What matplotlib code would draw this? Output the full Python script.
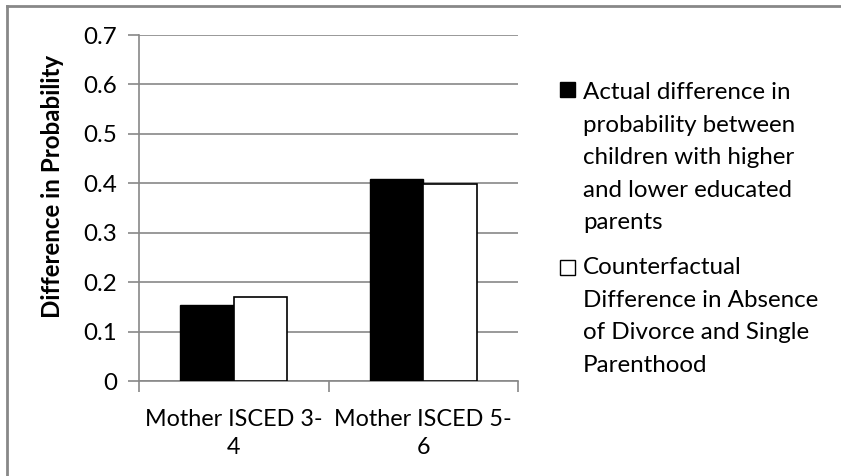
import matplotlib.pyplot as plt
from matplotlib.patches import Rectangle
import numpy as np

categories = ['Mother ISCED 3-\n4', 'Mother ISCED 5-\n6']
actual = [0.153, 0.409]
counterfactual = [0.170, 0.398]
series_labels = [
    'Actual difference in\nprobability between\nchildren with higher\nand lower educated\nparents',
    'Counterfactual\nDifference in Absence\nof Divorce and Single\nParenthood',
]
yticks = [0, 0.1, 0.2, 0.3, 0.4, 0.5, 0.6, 0.7]

plt.rcParams['font.family'] = ['Lato', 'DejaVu Sans']
FS = 17.4
W, H = 841, 476

fig = plt.figure(figsize=(W / 100, H / 100), dpi=100)
ax = fig.add_axes([139 / W, 1 - 381 / H, (518 - 139) / W, (381 - 35) / H])

x = np.arange(len(categories))
bw = 0.283
ax.bar(x - bw / 2, actual, bw, color='black', edgecolor='black', linewidth=1, zorder=3)
ax.bar(x + bw / 2, counterfactual, bw, color='white', edgecolor='black', linewidth=1.2, zorder=3)

ax.set_xlim(-0.5, 1.5)
ax.set_ylim(0, 0.7)
ax.set_yticks(yticks)
ax.set_yticklabels(['0'] + [f'{v:.1f}' for v in yticks[1:]], fontsize=FS)
ax.yaxis.grid(True, color='#888888', linewidth=1.2, zorder=0)

# category ticks sit on the boundaries, labels in the middle
ax.set_xticks([-0.5, 0.5, 1.5])
ax.set_xticklabels([])
ax.set_xticks(x, minor=True)
ax.set_xticklabels(categories, minor=True, fontsize=16.8, linespacing=1.45)
ax.tick_params(axis='x', which='minor', length=0, pad=20)
ax.tick_params(axis='x', which='major', length=8, color='#888888', width=1.2)
ax.tick_params(axis='y', length=8, color='#888888', width=1.2, pad=8)

for side in ['top', 'right']:
    ax.spines[side].set_visible(False)
for side in ['left', 'bottom']:
    ax.spines[side].set_color('#888888')
    ax.spines[side].set_linewidth(1.2)

fig.text(53 / W, 1 - 186 / H, 'Difference in Probability', rotation=90,
         ha='center', va='center', fontsize=FS, fontweight='bold')

# legend drawn by hand so the swatch sits on the first line
for lbl, fc, ytop, ysw in zip(series_labels, ['black', 'white'], [82, 257], [82, 260]):
    fig.text(583 / W, 1 - ytop / H, lbl, ha='left', va='top',
             fontsize=FS, linespacing=1.68)
    fig.patches.append(Rectangle((560 / W, 1 - (ysw + 15) / H), 15 / W, 15 / H,
                                 transform=fig.transFigure, facecolor=fc,
                                 edgecolor='black', linewidth=1))

# chart frame
fig.add_artist(plt.Line2D([7 / W, 7 / W], [0, 1 - 6 / H], color='#888888', linewidth=2))
fig.add_artist(plt.Line2D([7 / W, 1], [1 - 6 / H, 1 - 6 / H], color='#888888', linewidth=2))

fig.savefig('out.png', dpi=100)
